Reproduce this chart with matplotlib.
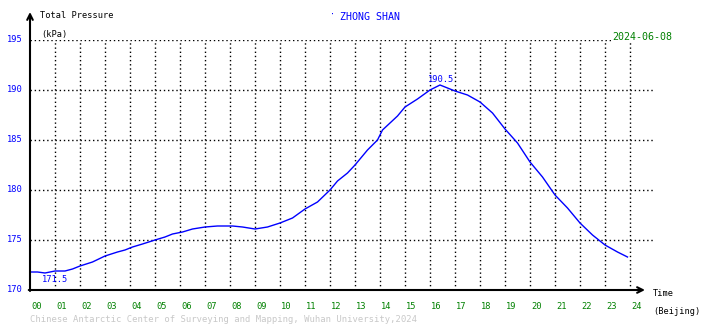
from matplotlib import pyplot as plt

# hours (Beijing) and total pressure
hours = [0.0, 0.3, 0.6, 0.8, 1.0, 1.4, 1.7, 2.0, 2.5, 3.0, 3.5, 3.8, 4.1, 4.5,
         5.0, 5.4, 5.7, 6.1, 6.5, 7.0, 7.5, 8.1, 8.5, 9.0, 9.5, 10.0, 10.5,
         11.0, 11.5, 12.0, 12.3, 12.7, 13.0, 13.5, 13.9, 14.1, 14.7, 15.0,
         15.5, 16.0, 16.4, 17.0, 17.5, 18.0, 18.5, 19.0, 19.5, 20.0, 20.5,
         21.0, 21.5, 22.0, 22.5, 23.0, 23.5, 23.9]
pressure = [171.8, 171.8, 171.7, 171.8, 171.9, 171.9, 172.1, 172.4, 172.8, 173.4,
            173.8, 174.0, 174.3, 174.6, 175.0, 175.3, 175.6, 175.8, 176.1, 176.3,
            176.4, 176.4, 176.3, 176.1, 176.3, 176.7, 177.2, 178.1, 178.8, 180.0,
            180.9, 181.7, 182.5, 184.0, 185.0, 186.0, 187.4, 188.3, 189.1, 190.0,
            190.5, 189.9, 189.5, 188.8, 187.7, 186.1, 184.7, 182.8, 181.3, 179.5,
            178.2, 176.7, 175.5, 174.5, 173.8, 173.3]

yticks = [170, 175, 180, 185, 190, 195]
xlabels = ['%02d' % h for h in range(25)]
pmax, tmax = 190.5, 16.4
pmin, tmin = 171.5, 1.0

mono = 'DejaVu Sans Mono'
blue = '#0000ff'
green = '#008000'

fig = plt.figure(figsize=(7.1, 3.28), dpi=100)
ax = fig.add_axes([30/710, 38/328, 625/710, 250/328])
ax.set_xlim(0, 25)
ax.set_ylim(170, 195)
for s in ax.spines.values():
    s.set_visible(False)
ax.set_xticks([])
ax.set_yticks([])

# dotted grid
for h in range(1, 25):
    ax.plot([h, h], [170, 195], color='k', ls=(0, (1, 2)), lw=1)
for v in yticks[1:]:
    ax.plot([0, 25], [v, v], color='k', ls=(0, (1, 2)), lw=1)

ax.plot(hours, pressure, color=blue, lw=1.0)

# axes with arrows
ax.annotate('', xy=(0, 197.8), xytext=(0, 169.9), annotation_clip=False,
            arrowprops=dict(arrowstyle='->', lw=1.5, color='k', shrinkA=0, shrinkB=0))
ax.annotate('', xy=(24.6, 170), xytext=(-0.05, 170), annotation_clip=False,
            arrowprops=dict(arrowstyle='->', lw=1.5, color='k', shrinkA=0, shrinkB=0))

for v in yticks:
    ax.text(-0.28, v, str(v), color=blue, fontsize=6.3, family=mono,
            ha='right', va='center')
for h, lab in enumerate(xlabels):
    ax.text(h + 0.05, 168.8, lab, color=green, fontsize=6.3, family=mono,
            ha='left', va='top')

ax.text(tmax + 0.05, pmax + 0.1, '%.1f' % pmax, color=blue, fontsize=6.3, family=mono,
        ha='center', va='bottom')
ax.text(tmin, pmin - 0.4, '%.1f' % pmin, color=blue, fontsize=6.3, family=mono,
        ha='center', va='center')

fig.text(40/710, 1 - 16/328, 'Total Pressure', fontsize=6.2, family=mono, va='center')
fig.text(41/710, 1 - 34/328, '(kPa)', fontsize=6.2, family=mono, va='center')
fig.text(653/710, 1 - 294/328, 'Time', fontsize=6.2, family=mono, va='center')
fig.text(653/710, 1 - 311/328, '(Beijing)', fontsize=6.2, family=mono, va='center')
fig.text(330/710, 1 - 15/328, '\u00b7', color=blue, fontsize=6, family=mono, va='center')
fig.text(340/710, 1 - 17/328, 'ZHONG SHAN', color=blue, fontsize=7.2, family=mono,
         va='center')
fig.text(612/710, 1 - 37/328, '2024-06-08', color=green, fontsize=7.2, family=mono,
         va='center', bbox=dict(facecolor='white', edgecolor='none', pad=0.5))
fig.text(30/710, 1 - 320/328,
         'Chinese Antarctic Center of Surveying and Mapping, Wuhan University,2024',
         color='#c8c8c8', fontsize=6.4, family=mono, va='center')

fig.savefig('out.png', dpi=100)
